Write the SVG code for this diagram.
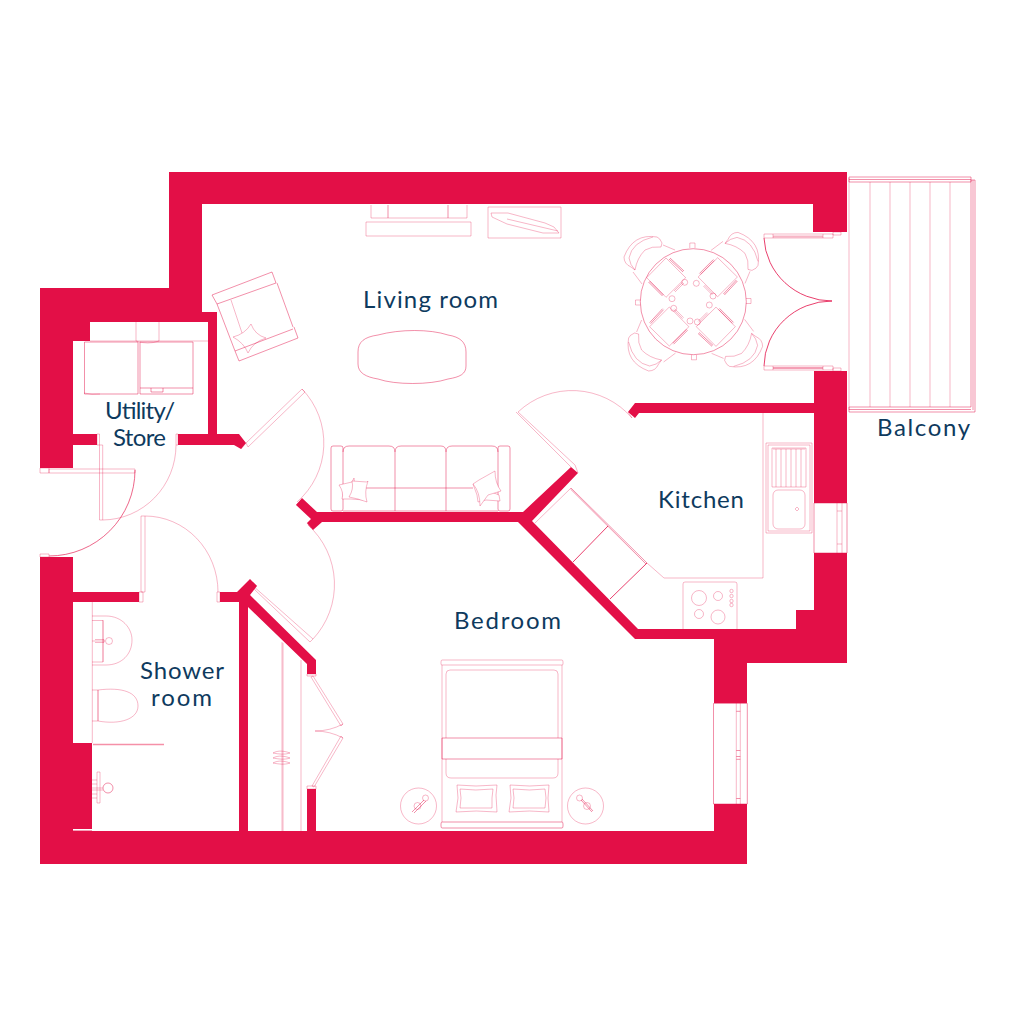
<svg xmlns="http://www.w3.org/2000/svg" width="1022" height="1021" viewBox="0 0 1022 1021">
<style>
.w{fill:#e30f47}
.l,.m,.s{fill:none;stroke:#e30f47;stroke-linejoin:round}
.l{stroke-width:.4;stroke-opacity:.75}
.m{stroke-width:.55;stroke-opacity:.85}
.s{stroke-width:.8}
.t{fill:#0e3a5e;font-family:Lato,"Liberation Sans",sans-serif;font-size:24px}
</style>
<defs>
<g id="chair">
<path class="l" d="M657 237Q633 233 624 257Q624 264 631 267L635 270Q637 258 645 250Q652 246 661 247L662 243Q660 238 657 237ZM653 237Q632 242 629 258Q630 265 635 270M663 245L675 250M633 272L642 284"/>
</g>
<g id="place">
<path class="l" d="M666 258L685.700 277.700L666 297.300L646.700 277.700Z"/>
<path class="m" d="M669 259L683 272M670 258L684 271M648.500 282L662.500 296M649.500 281L663.500 295"/>
<path class="l" d="M674 291L683 282M675 292L684 283"/>
</g>
</defs>
<rect width="1022" height="1021" fill="#fff"/>
<g id="walls">
<path class="w" d="M169 172H847V232H813V204H202V312H217V434H239L246 443L241 449L234 445H178V434H208V322H90V341H73V434H97V445H73V468H40V288H169Z"/>
<path class="w" d="M814 371H847V503H814V413H639L635 418L628 412L635 403H814Z"/>
<path class="w" d="M814 553H847V663H747V703H714V639H635L518 522H322L313 530L307 523L311 519L296 505L302 498L317 512H523L571 467L578 473L532 521L638 629H796V610H814Z"/>
<path class="w" d="M714 804H747V864H40V557H73V592H139V602H73V743H92V831H239V602H220V592H237L250 579L257 586L250 595L316 660V674H307V664L248 607V831H307V789H316V831H714Z"/>
<rect x="73" y="829" width="19" height="1.600" fill="#fff"/>
</g>
<g id="utility">
<path class="m" d="M84.500 342H138V394H84.500ZM140 342H193V394H140ZM140 388H193M151 388V392H163V388"/>
<path class="l" d="M90 341H208M136 322V341M159 322V341M136 341Q148 345 159 341M84 393Q92 395 100 394"/>
</g>
<g id="doors">
<path class="l" d="M99.500 445H102.700V520H99.500ZM97 434H99.500V445H97ZM176 434H178V445H176ZM176 445A74 75 0 0 1 102.700 520"/>
<path class="l" d="M49 469H135V473H49ZM40 468H49V473H40ZM40 554H49V557H40Z"/>
<path class="s" d="M135 470A86 86 0 0 1 49 556" stroke-opacity=".8" stroke-width=".6"/>
<path class="l" d="M141 516H145V592H141ZM139 592H143V602H139ZM217 592H220V602H217ZM145 516A73 76 0 0 1 218 592"/>
<path class="l" d="M246 443L302 389L305 392L248 447ZM302 389A78 78 0 0 1 297 502M296 505L299 502M241 449L246 443"/>
<path class="l" d="M252 585L313 639L310 642L255 590ZM308 525A80 80 0 0 1 313 639M257 586L253 582M307 523L311 528"/>
<path class="l" d="M518 412L575 465L578 473M516 412L571 467M518 412A79 79 0 0 1 632 418M628 412L632 418"/>
<path class="l" d="M764 234H833V238H764ZM773 234V238M823 234V238M833 232H841V235H833Z"/>
<path class="s" d="M764 238A68 66 0 0 0 832 301" stroke-width=".6"/>
<path d="M773 236.500H823" stroke="#e30f47" stroke-width="2" stroke-opacity=".3"/>
<path class="l" d="M764 366H833V370H764ZM773 366V370M823 366V370M833 371V368H841V371Z"/>
<path class="s" d="M764 366A68 66 0 0 1 832 301M773 368H823" stroke-width=".6"/>
</g>
<g id="shower">
<path class="l" d="M92.300 602V743M92 616H106C122 616 132 628 132 640C132 654 122 665 106 665H92M92 620.500H103V662M103 620V662H92M92 641H105M95 639.500H104V642.500H95"/>
<circle class="l" cx="109" cy="641" r="3.500"/>
<path class="l" d="M92 690H98V721H92M98 690C122 687 138 692 138 706C138 719 120 725 98 721M98 690V721"/>
<path d="M93 744.500H164" stroke="#f590a8" stroke-width="1.300"/>
<path class="l" d="M97 772H100V803H97ZM92 780H97M92 794H97M92 784H97M92 798H97M92 788H103M92 790H103"/>
<circle class="m" cx="108" cy="788" r="5"/>
</g>
<g id="wardrobe">
<path class="l" d="M282 642V831M283 643V831M301 660V831M307 674H316V676H307ZM307 786H316V789H307ZM313 676L343 724L341 726L311 677ZM343 738L314 787L312 786L341 736ZM315 731Q330 731 343 724M315 731Q330 731 343 738"/>
<path class="l" d="M273 753C278 750 285 751 290 753C285 755 278 754 273 753M273 758C278 755 285 756 290 758C285 760 278 759 273 758M273 763C278 760 285 761 290 763C285 765 278 764 273 763"/>
</g>
<g id="living-room">
<path class="l" d="M366 222H471V236H366ZM371 205V218H467V205"/>
<path class="m" d="M388 205V218M448 205V218"/>
<path class="l" d="M488 207H561V238H488Z"/>
<path class="l" d="M491 213L508 213L545 223L554 227L559 233L543 233L507 224L492 217Z M507 219L558 231"/>
<g id="armchair">
<path class="m" d="M212 295L272 272L276 283L217 304ZM217 304L235 351M277 283L293 327M294 327L298 338L239 361L235 351L293 329"/>
<path class="l" d="M231 300L242 333M233 337Q245 334 251 324Q255 335 266 338Q253 342 248 353Q244 343 233 337Z"/>
</g>
<path class="m" d="M378 335C400 329 430 329 448 335C460 337 466 342 466 352V366C466 374 460 377 448 379C430 385 395 385 378 379C366 377 358 373 358 364V352C358 342 364 337 378 335Z"/>
<g id="sofa">
<path class="m" d="M333 446H341Q343 446 343 448V509Q343 511 341 511H333Q331 511 331 509V448Q331 446 333 446ZM500 446H508Q510 446 510 448V509Q510 511 508 511H500Q498 511 498 509V448Q498 446 500 446Z"/>
<path class="m" d="M343 452Q343 446 349 446H389Q395 446 395 452V511M395 452Q395 446 401 446H441Q446 446 446 452V511M446 452Q446 446 452 446H492Q498 446 498 452M343 511H498M366 488H473"/>
<path class="l" style="fill:#fff" d="M339 485L352 482L354 478Q354 490 364 500L351 499L342 499Q344 492 339 485Z"/>
<path class="l" style="fill:#fff" d="M352 481L367 482L368 481Q364 492 367 502L358 499L349 497Q354 489 352 481Z"/>
<path class="l" style="fill:#fff" d="M473 484L479 487L499 495L500 501L486 500L478 502L477 495Z"/>
<path class="l" style="fill:#fff" d="M479 480L495 471Q495 483 501 491L488 495L480 506Q480 492 473 484Z"/>
</g>
</g>
<g id="dining">
<use href="#chair"/>
<use href="#chair" transform="rotate(90 693.300 301.700)"/>
<use href="#chair" transform="rotate(180 693.300 301.700)"/>
<use href="#chair" transform="rotate(270 693.300 301.700)"/>
<circle class="m" cx="693.300" cy="301.700" r="53"/>
<path class="l" d="M689.800 248V243H695V248M691.500 355V359.800H696.500V355M640.500 300H635.500V305H640.500M746 298.500H751V303.500H746"/>
<use href="#place"/>
<use href="#place" transform="translate(51.700 -0.700) rotate(90 666 277.700)"/>
<use href="#place" transform="translate(3.300 49) rotate(270 666 277.700)"/>
<use href="#place" transform="translate(50 49) rotate(180 666 277.700)"/>
<circle class="l" cx="672" cy="298.700" r="3"/><circle class="l" cx="696.300" cy="283.300" r="3"/><circle class="l" cx="690" cy="321" r="3"/><circle class="l" cx="697.300" cy="322" r="3"/><circle class="l" cx="709.300" cy="305" r="3"/><circle class="l" cx="713" cy="296" r="3"/><circle class="l" cx="684.700" cy="282.300" r="3"/><circle class="l" cx="673.700" cy="308.300" r="3"/>
</g>
<g id="balcony">
<path class="l" d="M849 178V410M870 182V407M890 182V407M910 182V407M930 182V407M950 182V407"/>
<path class="m" d="M849 177H971V182H849ZM971 180H975V412H849V407H971ZM973 180V410M849 179.500H971M849 409.500H971"/>
</g>
<g id="kitchen">
<path class="l" d="M763 413V578H664L647 563"/>
<path class="m" d="M571 488L647 563M570.500 489L646 564"/>
<path class="l" d="M571 488L535 523"/>
<path class="s" d="M608 526L573 562M647 563L610 599" stroke-width=".5"/>
<path class="l" d="M766 443H812V533H766ZM768 445H810V531H768Z"/>
<path class="l" d="M772 448H806V487H772ZM776 449V487M781 449V487M786 449V487M791 449V487M796 449V487M801 449V487M773 449H805"/>
<rect class="l" x="773" y="490" width="32" height="39" rx="5"/>
<path class="l" d="M797 507L799 509L797 511L795 509Z"/>
<path class="l" d="M683 629V584Q683 582 685 582H735Q737 582 737 584V629"/>
<circle class="l" cx="699" cy="598" r="7.500"/><circle class="l" cx="718" cy="596" r="4.500"/><circle class="l" cx="699" cy="614" r="4.500"/><circle class="l" cx="718" cy="617" r="7"/>
<circle class="l" cx="731.500" cy="591" r="1.700"/><circle class="l" cx="731.500" cy="596" r="1.700"/><circle class="l" cx="731.500" cy="601" r="1.700"/><circle class="l" cx="731.500" cy="605" r="1.700"/>
<path class="m" d="M814 503H847V553H814Z"/>
<path class="l" d="M837 503V553M842 503V553M837 511H842M837 544H842"/>
</g>
<g id="bedroom">
<path class="m" d="M713.500 703.500H747.300V804H713.500Z"/>
<path class="l" d="M736.300 703V804M740.300 703V804"/>
<path class="m" d="M736.300 711.300H740.300M736.300 750.500H740.300M736.300 756.500H740.300M736.300 759.300H740.300M736.300 798.500H740.300"/>
<path class="l" d="M442 660H562Q563 660 563 662V664Q563 665 562 665H442Q441 665 441 664V662Q441 660 442 660ZM442 665V822M562 665V822"/>
<path class="m" d="M442 738H562V759H442Z"/>
<path class="l" d="M446 738V674Q446 670 450 670H554Q558 670 558 674V738M446 759V773Q446 778 451 778H553Q558 778 558 773V759"/>
<path class="m" d="M442 822H562M442 822Q441 822 441 824V826Q441 828 442 828H562Q563 828 563 826V824Q563 822 562 822"/>
<path class="l" d="M457 785Q475 787 497 785L496 795L497 812Q476 810 456 812L458 798ZM460 789Q475 791 493 789L492 798L492 808Q476 808 460 808L461 798Z"/>
<path class="l" d="M510 785Q530 787 549 785L548 798L549 812Q530 810 509 812L511 798ZM513 789Q530 791 545 789L546 798L545 808Q530 808 513 808L514 798Z"/>
<circle class="l" cx="418.500" cy="806" r="18"/><circle class="l" cx="585.500" cy="806" r="18"/>
<circle class="l" cx="425.500" cy="798" r="3"/><circle class="l" cx="417.500" cy="806" r="3.500"/><circle class="l" cx="579.500" cy="798" r="3"/><circle class="l" cx="587" cy="806" r="3.500"/>
<path class="m" d="M412 812L424 800M414 813L426 801M592 812L581 800M593 811L582 799"/>
</g>
<g id="labels">
<text class="t" x="363" y="308" textLength="135" lengthAdjust="spacing">Living room</text>
<text class="t" x="105" y="419" textLength="70" lengthAdjust="spacing">Utility/</text>
<text class="t" x="113" y="446" textLength="53" lengthAdjust="spacing">Store</text>
<text class="t" x="140" y="678.500" textLength="84" lengthAdjust="spacing">Shower</text>
<text class="t" x="151" y="705.500" textLength="61" lengthAdjust="spacing">room</text>
<text class="t" x="658" y="508" textLength="86" lengthAdjust="spacing">Kitchen</text>
<text class="t" x="454" y="629" textLength="107" lengthAdjust="spacing">Bedroom</text>
<text class="t" x="877" y="436" textLength="93" lengthAdjust="spacing">Balcony</text>
</g>
</svg>
